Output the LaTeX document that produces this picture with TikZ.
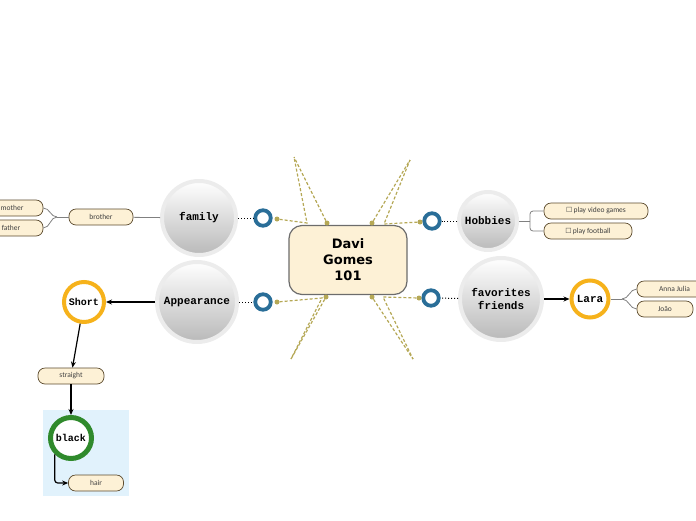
\documentclass[tikz,border=0pt]{standalone}
\usepackage{fontspec}
\setmainfont{Carlito}
\newfontfamily\topicfont{Liberation Mono}
\newfontfamily\hubfont{DejaVu Sans}
\newfontfamily\boxfont{DejaVu Sans}
\usetikzlibrary{positioning,arrows.meta}
\definecolor{leaffill}{HTML}{FDF1D6}
\definecolor{leafline}{HTML}{5C4B2E}
\definecolor{linkolive}{HTML}{B5A856}
\definecolor{ringblue}{HTML}{2A6E98}
\definecolor{ringgold}{HTML}{F6B21B}
\definecolor{ringgreen}{HTML}{2F8A2C}
\definecolor{paleblue}{HTML}{E1F2FC}
\newcommand{\tick}{{\boxfont\fontsize{7}{8}\selectfont ☐}\,}
\begin{document}
\begin{tikzpicture}[x=1pt,y=-1pt,
  every node/.style={inner sep=0pt},
  topic/.style={circle, draw=gray!15, line width=4pt, top color=white, bottom color=gray!55,
    align=center, font=\topicfont\bfseries\fontsize{11}{12.5}\selectfont},
  leaf/.style={draw=leafline, fill=leaffill, line width=0.7pt, rounded corners=7pt,
    minimum height=16pt, font=\fontsize{7.5}{9}\selectfont, text=black!75},
  hole/.style={circle, draw=ringblue, line width=3.8pt, minimum size=15.5pt},
  pick/.style={circle, line width=4pt, fill=white, minimum size=40pt,
    font=\topicfont\bfseries\fontsize{11}{12}\selectfont},
  link/.style={draw=linkolive, line width=1.2pt, dash pattern=on 3pt off 2pt},
  knot/.style={circle, fill=linkolive, minimum size=5pt},
  branch/.style={draw=gray, line width=0.8pt},
  push/.style={-{Stealth[length=6pt,width=5pt]}, line width=1.2pt}]
\useasboundingbox (0,0) rectangle (696,520);

% zone behind black / hair
\fill[paleblue] (43,410) rectangle (129,496);

% central topic
\node[draw=gray!85!black, line width=1.2pt, fill=leaffill, rounded corners=13pt,
  minimum width=118pt, minimum height=69pt, align=center,
  font=\hubfont\bfseries\fontsize{13}{16}\selectfont] (hub) at (348,260) {Davi\\Gomes\\101};

% main topics
\node[topic, minimum size=74pt] (family) at (199,218) {family};
\node[topic, minimum size=80pt] (appear) at (197,302) {Appearance};
\node[topic, minimum size=58pt] (hobbies) at (488,221) {Hobbies};
\node[topic, minimum size=82pt] (friends) at (501,299) {favorites\\friends};

% blue rings
\node[hole] (famhole) at (263,218) {};
\node[hole] (apphole) at (263,302) {};
\node[hole] (hobhole) at (432,221) {};
\node[hole] (frhole) at (431,298) {};

\draw[dotted, line width=1pt] (family) -- (famhole);
\draw[dotted, line width=1pt] (appear) -- (apphole);
\draw[dotted, line width=1pt] (hobbies) -- (hobhole);
\draw[dotted, line width=1pt] (friends) -- (frhole);

% olive links to the centre
\node[knot] (famknot) at (277,219) {};
\node[knot] (appknot) at (277,302) {};
\node[knot] (hobknot) at (420,222) {};
\node[knot] (frknot) at (419,298) {};
\node[knot] (hubnw) at (327,223) {};
\node[knot] (hubne) at (372,223) {};
\node[knot] (hubsw) at (326,297) {};
\node[knot] (hubse) at (372,297) {};
\coordinate (nwtip) at (294,157);
\coordinate (netip) at (410,160);
\coordinate (swtip) at (291,359);
\coordinate (setip) at (413,359);
\coordinate (nwbend) at (307,223);
\coordinate (nebend) at (384,224);
\coordinate (swbend) at (322,298);
\coordinate (sebend) at (383,297);

\draw[link] (famknot) -- (nwbend) -- (nwtip);
\draw[link] (hubnw) -- (nwtip);
\draw[link] (hobknot) -- (nebend) -- (netip);
\draw[link] (hubne) -- (netip);
\draw[link] (appknot) -- (swbend) -- (swtip);
\draw[link] (hubsw) -- (swtip);
\draw[link] (frknot) -- (sebend) -- (setip);
\draw[link] (hubse) -- (setip);

% family
\node[leaf, minimum width=64pt] (brother) at (101,217) {brother};
\node[leaf, minimum width=62pt] (mother) at (12,208) {mother};
\node[leaf, minimum width=64pt] (father) at (11,228) {father};
\coordinate (famfork) at (57,217);
\draw[branch] (family) -- (brother);
\draw[branch] (brother) -- (famfork);
\draw[branch] (famfork) to[out=180, in=0] (mother.east);
\draw[branch] (famfork) to[out=180, in=0] (father.east);

% hobbies
\node[leaf, minimum width=104pt] (games) at (596,211) {\tick play video games};
\node[leaf, minimum width=88pt] (football) at (588,231) {\tick play football};
\coordinate (hobfork) at (530,221);
\draw[branch] (hobbies) -- (hobfork);
\draw[branch, rounded corners=3pt] (hobfork) |- (games.west);
\draw[branch, rounded corners=3pt] (hobfork) |- (football.west);

% favorites friends
\node[pick, draw=ringgold, minimum size=37pt] (lara) at (590,299) {Lara};
\node[leaf, minimum width=75pt] (anna) at (674.5,289) {Anna Julia};
\node[leaf, minimum width=56pt] (joao) at (665,309) {João};
\coordinate (frfork) at (622,299);
\draw[push] (friends) -- (lara);
\draw[branch] (lara) -- (frfork);
\draw[branch] (frfork) to[out=0, in=180] (anna.west);
\draw[branch] (frfork) to[out=0, in=180] (joao.west);

% appearance
\node[pick, draw=ringgold, font=\topicfont\bfseries\fontsize{10}{12}\selectfont] (short) at (84,302) {Short};
\node[leaf, minimum width=66pt] (straight) at (71,376) {straight};
\node[pick, draw=ringgreen, line width=5pt, minimum size=41pt,
  font=\topicfont\bfseries\fontsize{10}{12}\selectfont] (black) at (71,438) {black};
\node[leaf, minimum width=55pt] (hair) at (96,483) {hair};
\draw[push] (appear) -- (short);
\draw[push] (short) -- (straight);
\draw[push] (straight) -- (black);
\draw[push, rounded corners=3pt] (black.225) |- (hair.west);
\end{tikzpicture}
\end{document}
